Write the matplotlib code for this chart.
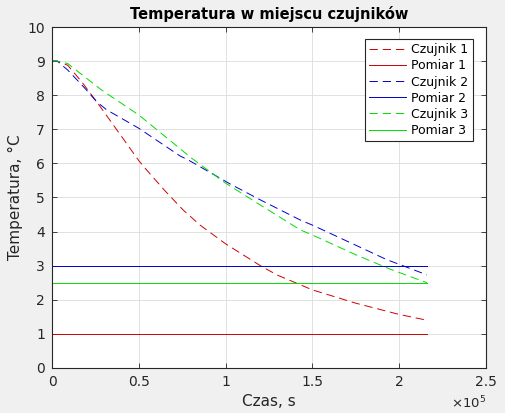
import numpy as np
import matplotlib
matplotlib.use("Agg")
import matplotlib.pyplot as plt
from matplotlib.ticker import FuncFormatter

# values (time in units of 1e5 s)
t_red = [0.0, 0.03, 0.09, 0.17, 0.257, 0.35, 0.5, 0.536, 0.65, 0.756, 0.853, 1.0, 1.21, 1.3, 1.5, 1.75, 2.0, 2.16]
czujnik1 = [9.0, 9.0, 8.88, 8.4, 7.81, 7.15, 6.08, 5.86, 5.2, 4.63, 4.19, 3.64, 2.97, 2.72, 2.29, 1.9, 1.57, 1.40]

t_blue = [0.0, 0.03, 0.09, 0.19, 0.257, 0.315, 0.5, 0.737, 0.785, 1.025, 1.2, 1.43, 1.5, 1.75, 1.927, 2.0, 2.16]
czujnik2 = [9.0, 9.0, 8.74, 8.2, 7.81, 7.57, 7.03, 6.22, 6.10, 5.40, 4.93, 4.34, 4.19, 3.6, 3.18, 3.04, 2.73]

t_green = [0.0, 0.03, 0.09, 0.286, 0.5, 0.805, 1.0, 1.2, 1.43, 1.5, 1.75, 1.947, 2.0, 2.16]
czujnik3 = [9.0, 9.0, 8.93, 8.15, 7.42, 6.15, 5.42, 4.78, 4.05, 3.9, 3.32, 2.9, 2.8, 2.5]

t_end = 2.16
pomiar = [1.0, 3.0, 2.5]

labels = ["Czujnik 1", "Pomiar 1", "Czujnik 2", "Pomiar 2", "Czujnik 3", "Pomiar 3"]
colors = ["#d00000", "#0000cc", "#00dd00"]

plt.rcParams["font.family"] = ["DejaVu Sans"]
plt.rcParams["lines.scale_dashes"] = False

fig = plt.figure(figsize=(5.06, 4.13), dpi=100)
fig.patch.set_facecolor("#f0f0f0")
ax = fig.add_axes([0.1028, 0.109, 0.8577, 0.8256])
ax.set_facecolor("white")

sets = [(t_red, czujnik1), (t_blue, czujnik2), (t_green, czujnik3)]
for i, (tt, yy) in enumerate(sets):
    tt = np.array(tt) * 1e5
    ax.plot(tt, yy, color=colors[i], lw=0.7, dashes=(6, 3.5), label=labels[2 * i])
    ax.plot([0, t_end * 1e5], [pomiar[i], pomiar[i]], color=colors[i], lw=0.7, label=labels[2 * i + 1])

ax.set_xlim(0, 2.5e5)
ax.set_ylim(0, 10)
ax.set_xticks(np.arange(0, 2.51e5, 0.5e5))
ax.set_yticks(np.arange(0, 11, 1))
ax.xaxis.set_major_formatter(FuncFormatter(lambda v, p: f"{v / 1e5:g}"))
ax.grid(True, color="#dcdcdc", lw=0.6)
ax.set_axisbelow(True)
ax.tick_params(direction="in", top=True, right=True, length=3.5, width=0.6,
               labelsize=10, labelcolor="#262626", color="#262626", pad=5)
for sp in ax.spines.values():
    sp.set_color("#262626")
    sp.set_linewidth(0.8)

ax.set_title("Temperatura w miejscu czujników", fontsize=10.5, fontweight="bold", color="black", pad=6)
ax.set_xlabel("Czas, s", fontsize=11, color="#262626", labelpad=4)
ax.set_ylabel("Temperatura, °C", fontsize=11, color="#262626", labelpad=3)
ax.text(1.0, -0.118, r"$\times10^5$", transform=ax.transAxes, ha="right", va="baseline",
        fontsize=9.5, color="#262626")

leg = ax.legend(loc="upper right", bbox_to_anchor=(0.97, 0.965), fontsize=9,
                frameon=True, fancybox=False, edgecolor="#262626", framealpha=1,
                handlelength=3.0, handletextpad=0.4, borderpad=0.35, labelspacing=0.25,
                borderaxespad=0.0)
leg.get_frame().set_linewidth(0.8)

fig.savefig("out.png", dpi=100, facecolor=fig.get_facecolor())
